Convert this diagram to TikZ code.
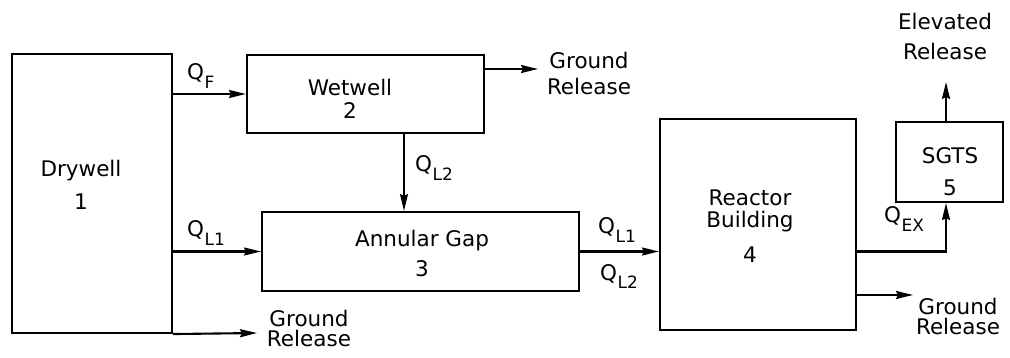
\documentclass[tikz,border=0pt]{standalone}
\usepackage{fontspec}
\setmainfont{DejaVu Sans}
\usetikzlibrary{arrows.meta,calc}
\newcommand{\Qsub}[1]{Q\kern0.5pt\raisebox{-9pt}{\fontsize{17}{17}\selectfont #1}}
\begin{document}
\begin{tikzpicture}[x=1pt,y=-1pt,
  box/.style={draw,line width=2.1pt,inner sep=0pt},
  arr/.style={line width=2.1pt,-{Stealth[length=17pt,width=8pt,inset=2pt]}},
  txt/.style={inner sep=0pt,align=center,font=\fontsize{21.5}{#1}\selectfont},
  txt/.default=26,
  ql/.style={inner sep=0pt,anchor=base west,font=\fontsize{21.5}{24}\selectfont}]
\useasboundingbox (0,0) rectangle (1010,358);
% boxes
\node[box,minimum width=160pt,minimum height=279pt] (dw) at (92,193.5) {};
\node[box,minimum width=237pt,minimum height=78pt] (ww) at (365.5,94) {};
\node[box,minimum width=317pt,minimum height=79pt] (ag) at (420.5,251.5) {};
\node[box,minimum width=196pt,minimum height=211pt] (rb) at (758,224.5) {};
\node[box,minimum width=107pt,minimum height=80pt] (sg) at (949.5,162) {};
% box texts
\node[txt=33,anchor=north] (dwt) at (81,159.5) {Drywell\\1};
\node[txt=23,anchor=north] (wwt) at (350,78.5) {Wetwell\\2};
\node[txt=30,anchor=north] (agt) at (422,229.5) {Annular Gap\\3};
\node[txt=22,anchor=north] (rbt) at (750,189.5) {Reactor\\Building\\[13pt]4};
\node[txt=32,anchor=north] (sgt) at (950,147) {SGTS\\5};
% release texts
\node[txt=30,anchor=north] (elt) at (945,12.5) {Elevated\\Release};
\node[txt=26,anchor=north] (wwg) at (589,51.5) {Ground\\Release};
\node[txt=20,anchor=north] (dwg) at (309,309.5) {Ground\\Release};
\node[txt=20,anchor=north] (rbg) at (958,297.5) {Ground\\Release};
% end coordinates
\coordinate (dwge) at (257,333);
\coordinate (wwge) at (538,69);
\coordinate (rbge) at (913,295);
\coordinate (ele) at (946,82);
% connectors
\draw[arr] (ww.west -| dw.east) -- (ww.west);
\draw[arr] (ag.west -| dw.east) -- (ag.west);
\draw[arr] (dw.south east) -- (dwge);
\draw[arr] (wwge -| ww.east) -- (wwge);
\draw[arr] ([xshift=38.5pt]ww.south) -- ([xshift=38.5pt]ww.south |- ag.north);
\draw[arr] (ag.east) -- (ag.east -| rb.west);
\draw[arr] (ag.east -| rb.east) -| ([xshift=-3.5pt]sg.south);
\draw[arr] ([xshift=-3.5pt]sg.north) -- (ele);
\draw[arr] (rbge -| rb.east) -- (rbge);
% flow labels
\node[ql] (qf) at (187,80) {\Qsub{F}};
\node[ql] (ql1a) at (187,237) {\Qsub{L1}};
\node[ql] (ql2a) at (415,172) {\Qsub{L2}};
\node[ql] (ql1b) at (598,234) {\Qsub{L1}};
\node[ql] (ql2b) at (600,280) {\Qsub{L2}};
\node[ql] (qex) at (884,223) {\Qsub{EX}};
\end{tikzpicture}
\end{document}
